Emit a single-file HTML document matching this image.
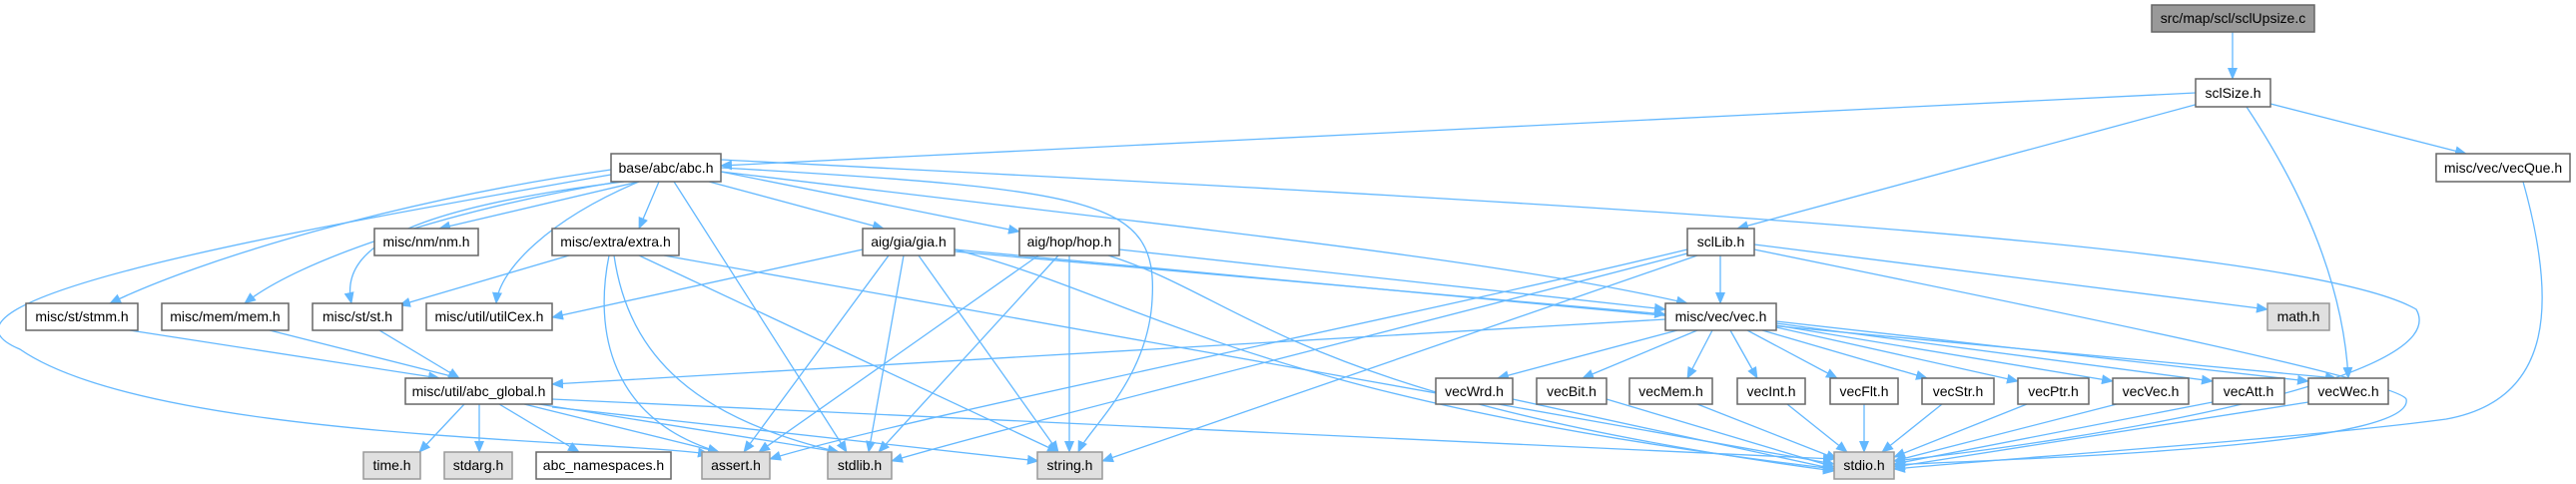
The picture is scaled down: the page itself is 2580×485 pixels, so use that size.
<!DOCTYPE html>
<html><head><meta charset="utf-8"><style>
html,body{margin:0;padding:0;background:#fff;}
svg{display:block;}
text{font-family:"Liberation Sans",Arial,sans-serif;font-size:14px;fill:#000;}
.e{fill:none;stroke:#63b8ff;stroke-width:1.3;marker-end:url(#a);}
.n{fill:#fff;stroke:#666;stroke-width:1.5;}
.g{fill:#e0e0e0;stroke:#999;stroke-width:1.5;}
.r{fill:#999;stroke:#666;stroke-width:1.5;}
</style></head><body>
<svg width="2580" height="485" viewBox="0 0 2580 485" xmlns="http://www.w3.org/2000/svg">
<defs><marker id="a" markerUnits="userSpaceOnUse" markerWidth="12" markerHeight="10" refX="11" refY="5" orient="auto"><path d="M0,0 L12,5 L0,10 z" fill="#63b8ff"/></marker></defs>
<g>
<path class="e" d="M2236,32 L2236,79"/>
<path class="e" d="M2199,93 L722,166"/>
<path class="e" d="M2202,104 L1740,229"/>
<path class="e" d="M2250,107 Q2345,250 2352,379"/>
<path class="e" d="M2274,104 L2470,154"/>
<path class="e" d="M640,182 L440,229"/>
<path class="e" d="M660,182 L640,229"/>
<path class="e" d="M710,182 L885,229"/>
<path class="e" d="M722,172 L1021,232"/>
<path class="e" d="M612,170 C400,200 200,260 110,304"/>
<path class="e" d="M620,182 C450,210 300,260 245,304"/>
<path class="e" d="M625,182 C400,210 340,250 352,304"/>
<path class="e" d="M640,182 C550,220 500,270 497,304"/>
<path class="e" d="M612,175 C300,230 -100,300 20,350 C150,440 600,440 710,455"/>
<path class="e" d="M675,182 L848,453"/>
<path class="e" d="M722,168 C1100,190 1160,200 1154,300 C1150,380 1090,430 1080,453"/>
<path class="e" d="M722,160 C1500,200 2300,240 2420,310 C2460,380 2100,440 1897,462"/>
<path class="e" d="M722,172 C1200,230 1500,260 1690,304"/>
<path class="e" d="M570,256 L400,306"/>
<path class="e" d="M610,256 C595,330 610,420 720,453"/>
<path class="e" d="M615,256 C630,360 700,420 840,453"/>
<path class="e" d="M640,256 L1060,453"/>
<path class="e" d="M665,256 L1837,465"/>
<path class="e" d="M864,250 L553,318"/>
<path class="e" d="M890,256 L745,453"/>
<path class="e" d="M905,256 L870,453"/>
<path class="e" d="M920,256 L1060,453"/>
<path class="e" d="M956,250 C1150,300 1250,400 1837,470"/>
<path class="e" d="M956,252 L1668,315"/>
<path class="e" d="M956,250 L2340,379"/>
<path class="e" d="M1040,256 L760,453"/>
<path class="e" d="M1060,256 L880,453"/>
<path class="e" d="M1071,256 L1071,453"/>
<path class="e" d="M1110,256 C1250,300 1300,400 1837,472"/>
<path class="e" d="M1121,250 L1668,310"/>
<path class="e" d="M1723,256 L1723,304"/>
<path class="e" d="M1690,250 C1400,320 900,420 771,460"/>
<path class="e" d="M1690,254 C1400,330 1000,430 893,462"/>
<path class="e" d="M1700,256 L1104,462"/>
<path class="e" d="M1757,250 C2000,300 2400,380 2410,400 C2420,450 2000,460 1897,466"/>
<path class="e" d="M1757,245 L2271,310"/>
<path class="e" d="M130,331 L440,379"/>
<path class="e" d="M270,331 L460,379"/>
<path class="e" d="M380,331 L460,379"/>
<path class="e" d="M465,405 L420,453"/>
<path class="e" d="M480,405 L480,453"/>
<path class="e" d="M500,405 L580,453"/>
<path class="e" d="M525,405 L720,453"/>
<path class="e" d="M540,405 L840,453"/>
<path class="e" d="M553,408 L1040,462"/>
<path class="e" d="M553,400 L1837,460"/>
<path class="e" d="M1668,320 L553,385"/>
<path class="e" d="M1680,331 L1500,379"/>
<path class="e" d="M1700,331 L1585,379"/>
<path class="e" d="M1715,331 L1690,379"/>
<path class="e" d="M1733,331 L1760,379"/>
<path class="e" d="M1750,331 L1840,379"/>
<path class="e" d="M1765,331 L1930,379"/>
<path class="e" d="M1779,328 L2021,382"/>
<path class="e" d="M1779,326 L2116,382"/>
<path class="e" d="M1779,324 L2216,382"/>
<path class="e" d="M1779,322 L2312,382"/>
<path class="e" d="M1515,400 L1837,470"/>
<path class="e" d="M1609,400 L1837,468"/>
<path class="e" d="M1700,405 L1840,460"/>
<path class="e" d="M1790,405 L1850,453"/>
<path class="e" d="M1867,405 L1867,453"/>
<path class="e" d="M1945,405 L1885,453"/>
<path class="e" d="M2030,405 L1897,458"/>
<path class="e" d="M2120,405 L1897,462"/>
<path class="e" d="M2216,403 L1897,465"/>
<path class="e" d="M2312,403 L1897,468"/>
<path class="e" d="M2527,182 C2560,300 2560,400 2450,420 C2300,440 2000,460 1897,470"/>
</g>
<g>
<rect class="r" x="2155" y="5" width="163" height="27"/><text x="2236.5" y="23" text-anchor="middle">src/map/scl/sclUpsize.c</text>
<rect class="n" x="2199" y="79" width="75" height="28"/><text x="2236.5" y="98" text-anchor="middle">sclSize.h</text>
<rect class="n" x="612" y="154" width="110" height="28"/><text x="667" y="173" text-anchor="middle">base/abc/abc.h</text>
<rect class="n" x="2440" y="154" width="134" height="28"/><text x="2507" y="173" text-anchor="middle">misc/vec/vecQue.h</text>
<rect class="n" x="375" y="229" width="104" height="27"/><text x="427" y="247" text-anchor="middle">misc/nm/nm.h</text>
<rect class="n" x="553" y="229" width="127" height="27"/><text x="616.5" y="247" text-anchor="middle">misc/extra/extra.h</text>
<rect class="n" x="864" y="229" width="92" height="27"/><text x="910" y="247" text-anchor="middle">aig/gia/gia.h</text>
<rect class="n" x="1021" y="229" width="100" height="27"/><text x="1071" y="247" text-anchor="middle">aig/hop/hop.h</text>
<rect class="n" x="1690" y="229" width="67" height="27"/><text x="1723.5" y="247" text-anchor="middle">sclLib.h</text>
<rect class="n" x="26" y="304" width="112" height="27"/><text x="82" y="322" text-anchor="middle">misc/st/stmm.h</text>
<rect class="n" x="162" y="304" width="127" height="27"/><text x="225.5" y="322" text-anchor="middle">misc/mem/mem.h</text>
<rect class="n" x="313" y="304" width="90" height="27"/><text x="358" y="322" text-anchor="middle">misc/st/st.h</text>
<rect class="n" x="427" y="304" width="126" height="27"/><text x="490" y="322" text-anchor="middle">misc/util/utilCex.h</text>
<rect class="n" x="1668" y="304" width="111" height="27"/><text x="1723.5" y="322" text-anchor="middle">misc/vec/vec.h</text>
<rect class="g" x="2271" y="304" width="62" height="27"/><text x="2302" y="322" text-anchor="middle">math.h</text>
<rect class="n" x="406" y="379" width="147" height="26"/><text x="479.5" y="397" text-anchor="middle">misc/util/abc_global.h</text>
<rect class="n" x="1438" y="379" width="77" height="26"/><text x="1476.5" y="397" text-anchor="middle">vecWrd.h</text>
<rect class="n" x="1539" y="379" width="70" height="26"/><text x="1574" y="397" text-anchor="middle">vecBit.h</text>
<rect class="n" x="1632" y="379" width="83" height="26"/><text x="1673.5" y="397" text-anchor="middle">vecMem.h</text>
<rect class="n" x="1740" y="379" width="68" height="26"/><text x="1774" y="397" text-anchor="middle">vecInt.h</text>
<rect class="n" x="1833" y="379" width="68" height="26"/><text x="1867" y="397" text-anchor="middle">vecFlt.h</text>
<rect class="n" x="1925" y="379" width="72" height="26"/><text x="1961" y="397" text-anchor="middle">vecStr.h</text>
<rect class="n" x="2021" y="379" width="71" height="26"/><text x="2056.5" y="397" text-anchor="middle">vecPtr.h</text>
<rect class="n" x="2116" y="379" width="76" height="26"/><text x="2154" y="397" text-anchor="middle">vecVec.h</text>
<rect class="n" x="2216" y="379" width="72" height="26"/><text x="2252" y="397" text-anchor="middle">vecAtt.h</text>
<rect class="n" x="2312" y="379" width="80" height="26"/><text x="2352" y="397" text-anchor="middle">vecWec.h</text>
<rect class="g" x="364" y="453" width="57" height="27"/><text x="392.5" y="471" text-anchor="middle">time.h</text>
<rect class="g" x="445" y="453" width="68" height="27"/><text x="479" y="471" text-anchor="middle">stdarg.h</text>
<rect class="n" x="537" y="453" width="135" height="27"/><text x="604.5" y="471" text-anchor="middle">abc_namespaces.h</text>
<rect class="g" x="703" y="453" width="68" height="27"/><text x="737" y="471" text-anchor="middle">assert.h</text>
<rect class="g" x="829" y="453" width="64" height="27"/><text x="861" y="471" text-anchor="middle">stdlib.h</text>
<rect class="g" x="1039" y="453" width="65" height="27"/><text x="1071.5" y="471" text-anchor="middle">string.h</text>
<rect class="g" x="1837" y="453" width="60" height="27"/><text x="1867" y="471" text-anchor="middle">stdio.h</text>
</g>
</svg>
</body></html>
